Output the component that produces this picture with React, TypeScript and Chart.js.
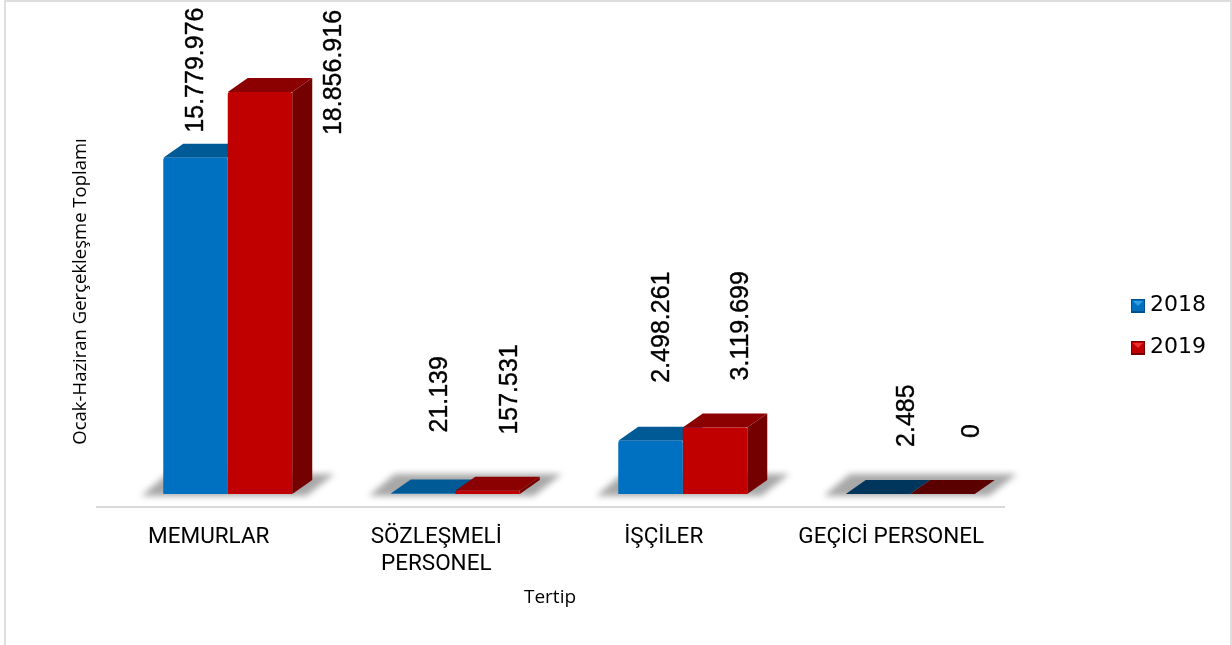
import React, { useEffect, useRef } from "react";
import { Chart, registerables } from "chart.js";

Chart.register(...registerables);

const categories = [["MEMURLAR"], ["SÖZLEŞMELİ", "PERSONEL"], ["İŞÇİLER"], ["GEÇİCİ PERSONEL"]];
const seriesNames = ["2018", "2019"];
const values2018 = [15779976, 21139, 2498261, 2485];
const values2019 = [18856916, 157531, 3119699, 0];
const yAxisTitle = "Ocak-Haziran Gerçekleşme Toplamı";
const xAxisTitle = "Tertip";

// label placement relative to each bar (dx from bar centre, dy from bar top)
const labelDx = [[1, 17, 12, 29], [74, 23, 26, 30]];
const labelDy = [[-25, -61, -58, -47], [43, -56, -47, -56]];

const FRONT = ["#0070C0", "#C00000"];
const TOP = ["#005A96", "#8B0000"];
const TOP_FLAT = ["#00365C", "#5A0000"];
const SIDE = ["#005088", "#750000"];
const DX = 20;
const DY = 14;

const fmt = (v: number) => String(v).replace(/\B(?=(\d{3})+(?!\d))/g, ".");

const poly = (ctx: CanvasRenderingContext2D, pts: number[][], fill: string) => {
  ctx.beginPath();
  pts.forEach(([x, y], i) => (i ? ctx.lineTo(x, y) : ctx.moveTo(x, y)));
  ctx.closePath();
  ctx.fillStyle = fill;
  ctx.fill();
};

const threeD = {
  id: "threeD",
  beforeDatasetsDraw(chart: any) {
    const { ctx } = chart;
    const m0 = chart.getDatasetMeta(0).data;
    const m1 = chart.getDatasetMeta(1).data;
    const base = chart.scales.y.getPixelForValue(0);
    // floor line
    ctx.save();
    ctx.fillStyle = "#D9D9D9";
    ctx.fillRect(chart.chartArea.left - 18, base + 12, chart.chartArea.width - 1, 2);
    // floor shadows
    ctx.filter = "blur(3px)";
    m0.forEach((b: any, i: number) => {
      const l = b.x - b.width / 2;
      const r = m1[i].x + m1[i].width / 2;
      poly(ctx, [[l - 22, base + 2], [r + 14, base + 2], [r + 42, base - 20], [l + 4, base - 20]], "#A8A8A8");
    });
    ctx.filter = "none";
    // tops and sides
    [m0, m1].forEach((meta: any[], d: number) => {
      const vals = d ? values2019 : values2018;
      meta.forEach((b: any, i: number) => {
        const l = b.x - b.width / 2;
        const r = b.x + b.width / 2;
        const t = b.y;
        poly(ctx, [[r, t], [r + DX, t - DY], [r + DX, base - DY], [r, base]], SIDE[d]);
        poly(ctx, [[l, t], [l + DX, t - DY], [r + DX, t - DY], [r, t]], vals[i] < 10000 ? TOP_FLAT[d] : TOP[d]);
      });
    });
    ctx.restore();
  },
  afterDraw(chart: any) {
    const { ctx } = chart;
    ctx.save();
    // rotated value labels
    [values2018, values2019].forEach((vals, d) => {
      const meta = chart.getDatasetMeta(d).data;
      vals.forEach((v, i) => {
        const b = meta[i];
        ctx.save();
        ctx.translate(b.x + labelDx[d][i], b.y + labelDy[d][i]);
        ctx.rotate(-Math.PI / 2);
        ctx.font = "25px 'Liberation Sans'";
        ctx.fillStyle = "#000";
        ctx.strokeStyle = "#000";
        ctx.lineWidth = 0.4;
        ctx.textAlign = "left";
        ctx.textBaseline = "middle";
        ctx.fillText(fmt(v), 0, 0);
        ctx.strokeText(fmt(v), 0, 0);
        ctx.restore();
      });
    });
    // x axis title
    ctx.font = "19px 'Open Sans'";
    ctx.fillStyle = "#000";
    ctx.textAlign = "center";
    ctx.textBaseline = "middle";
    ctx.fillText(xAxisTitle, chart.chartArea.left + chart.chartArea.width / 2 - 19, 598);
    // legend markers
    (chart.legend.legendHitBoxes || []).forEach((hb: any, d: number) => {
      const x = hb.left;
      const y = hb.top + (hb.height - 13) / 2;
      ctx.fillStyle = SIDE[d];
      ctx.fillRect(x, y, 14, 14);
      ctx.fillStyle = FRONT[d];
      ctx.fillRect(x + 1, y + 1, 12, 11);
      poly(ctx, [[x + 2, y + 2], [x + 12, y + 2], [x + 7, y + 7]], d ? "#F03030" : "#30A0E0");
    });
    ctx.restore();
  },
};

export default function App() {
  const ref = useRef<HTMLCanvasElement>(null);
  useEffect(() => {
    const chart = new Chart(ref.current!, {
      type: "bar",
      data: {
        labels: categories as any,
        datasets: [
          { label: seriesNames[0], data: values2018, backgroundColor: FRONT[0], borderRadius: 2 },
          { label: seriesNames[1], data: values2019, backgroundColor: FRONT[1], borderRadius: 2 },
        ],
      },
      plugins: [threeD],
      options: {
        responsive: false,
        animation: false,
        categoryPercentage: 0.567,
        barPercentage: 1,
        layout: { padding: { top: 8, left: 70, right: 16, bottom: 0 } },
        scales: {
          x: {
            grid: { display: false },
            border: { display: false },
            afterFit: (s: any) => { s.height = 151; },
            ticks: {
              padding: 22,
              labelOffset: -19,
              maxRotation: 0,
              autoSkip: false,
              color: "#000",
              font: { family: "Roboto", size: 22.5, lineHeight: 1.2 },
            },
          },
          y: {
            min: 0,
            max: 19000000,
            grid: { display: false },
            border: { display: false },
            ticks: { display: false },
            afterFit: (s: any) => { s.width = 44; },
            title: {
              display: true,
              text: yAxisTitle,
              color: "#000",
              font: { family: "Open Sans", size: 18.5 },
              padding: 0,
            },
          },
          pad: {
            type: "linear",
            position: "right",
            display: true,
            grid: { display: false },
            border: { display: false },
            ticks: { display: false },
            afterFit: (s: any) => { s.width = 87; },
          },
          padTop: {
            type: "linear",
            position: "top",
            display: true,
            grid: { display: false },
            border: { display: false },
            ticks: { display: false },
            afterFit: (s: any) => { s.height = 81; },
          },
        },
        plugins: {
          tooltip: { enabled: false },
          legend: {
            position: "right",
            labels: {
              boxWidth: 8,
              boxHeight: 13,
              padding: 20,
              color: "#000",
              font: { family: "DejaVu Sans", size: 22 },
            },
          },
        },
      } as any,
    });
    return () => chart.destroy();
  }, []);
  return (
    <div style={{ position: "absolute", left: 0, top: 0, width: 1232, height: 645, overflow: "hidden", background: "#fff" }}>
      <canvas ref={ref} width={1232} height={645} style={{ display: "block" }} />
      <div
        style={{
          position: "absolute",
          left: 4,
          top: 0,
          width: 1232 - 4 - 2 - 2,
          height: 660,
          borderLeft: "2px solid #DEDEDE",
          borderRight: "2px solid #DEDEDE",
          borderTop: "2px solid #DEDEDE",
        }}
      />
    </div>
  );
}
